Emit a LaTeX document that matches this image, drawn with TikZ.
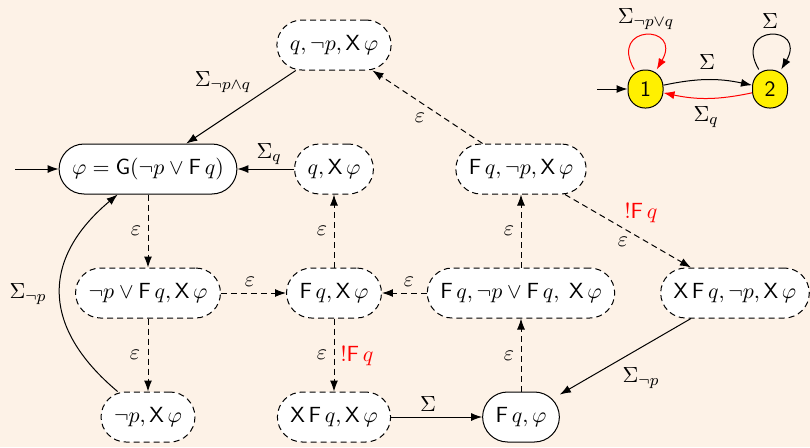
\documentclass[tikz,border=0pt]{standalone}
\usetikzlibrary{arrows.meta}
\definecolor{bgc}{RGB}{253,242,231}
\definecolor{yel}{RGB}{255,240,0}
\begin{document}
\begin{tikzpicture}[x=0.5pt,y=-0.5pt,
  font=\fontsize{10.95}{13.6}\selectfont,
  >={Latex[length=5.5pt,width=4pt]}, line width=0.5pt,
  st/.style={draw, fill=white, rounded corners=12.5pt, minimum height=25pt, inner xsep=6.5pt, inner ysep=2pt},
  dst/.style={st, dash pattern=on 3pt off 2pt},
  de/.style={->, dash pattern=on 3pt off 2pt},
  lbl/.style={inner sep=0pt},
  rl/.style={lbl, text=red},
  small/.style={draw, fill=yel, rounded corners=8.5pt, minimum width=17.5pt, minimum height=19pt, inner sep=0pt, font=\sffamily\fontsize{10.95}{13.6}\selectfont}]
\fill[bgc] (0,0) rectangle (810,447);
\useasboundingbox (0,0) rectangle (810,447);

% states
\node[st]  (main)  at (148,169) {$\varphi = \mathsf{G}(\neg p \vee \mathsf{F}\,q)$};
\node[dst] (qnpX)  at (334,45)  {$q, \neg p, \mathsf{X}\,\varphi$};
\node[dst] (qX)    at (334,169) {$q, \mathsf{X}\,\varphi$};
\node[dst] (FnpX)  at (521,169) {$\mathsf{F}\,q, \neg p, \mathsf{X}\,\varphi$};
\node[dst] (npFX)  at (148,293) {$\neg p \vee \mathsf{F}\,q, \mathsf{X}\,\varphi$};
\node[dst] (FX)    at (334,293) {$\mathsf{F}\,q, \mathsf{X}\,\varphi$};
\node[dst] (FnpFX) at (521,293) {$\mathsf{F}\,q, \neg p \vee \mathsf{F}\,q,\;\mathsf{X}\,\varphi$};
\node[dst] (XFnpX) at (735,293) {$\mathsf{X}\,\mathsf{F}\,q, \neg p, \mathsf{X}\,\varphi$};
\node[dst] (npX)   at (148,417) {$\neg p, \mathsf{X}\,\varphi$};
\node[dst] (XFX)   at (334,417) {$\mathsf{X}\,\mathsf{F}\,q, \mathsf{X}\,\varphi$};
\node[st]  (Fphi)  at (521,417) {$\mathsf{F}\,q, \varphi$};
\coordinate (init) at (15,169);

% edges
\draw[->] (init) -- (main);
\draw[->] (qnpX) -- (main);
\draw[->] (qX) -- (main);
\draw[de] (main) -- (npFX);
\draw[de] (npFX) -- (FX);
\draw[de] (FX) -- (qX);
\draw[de] (FnpFX) -- (FX);
\draw[de] (FnpFX) -- (FnpX);
\draw[de] (FnpX) -- (qnpX);
\draw[de] (FnpX) -- (XFnpX);
\draw[de] (FX) -- (XFX);
\draw[de] (npFX) -- (npX);
\draw[->] (npX) to[out=140,in=220,looseness=1.3] (main);
\draw[->] (XFX) -- (Fphi);
\draw[->] (XFnpX) -- (Fphi);
\draw[de] (Fphi) -- (FnpFX);

% labels
\node[lbl] (l1)  at (223,82)  {$\Sigma_{\neg p\wedge q}$};
\node[lbl] (l2)  at (269,154) {$\Sigma_q$};
\node[lbl] (l3)  at (136,231) {$\varepsilon$};
\node[lbl] (l4)  at (322,231) {$\varepsilon$};
\node[lbl] (l5)  at (250,282) {$\varepsilon$};
\node[lbl] (l6)  at (28,294)  {$\Sigma_{\neg p}$};
\node[lbl] (l7)  at (409,282) {$\varepsilon$};
\node[lbl] (l8)  at (509,231) {$\varepsilon$};
\node[lbl] (l9)  at (420,118) {$\varepsilon$};
\node[rl]  (l10) at (641,213) {$\mathsf{!F}\,q$};
\node[lbl] (l11) at (623,242) {$\varepsilon$};
\node[lbl] (l12) at (135,355) {$\varepsilon$};
\node[lbl] (l13) at (322,355) {$\varepsilon$};
\node[rl]  (l14) at (357,356) {$\mathsf{!F}\,q$};
\node[lbl] (l15) at (428,404) {$\Sigma$};
\node[lbl] (l16) at (641,378) {$\Sigma_{\neg p}$};
\node[lbl] (l17) at (509,356) {$\varepsilon$};

% small automaton
\node[small] (n1) at (645.5,89) {1};
\node[small] (n2) at (770,89) {2};
\coordinate (init2) at (597,89);
\draw[->] (init2) -- (n1);
\draw[->] (n1) to[bend left=12] (n2);
\draw[->,red] (n2) to[bend left=12] (n1);
\draw[->,red] (n1) to[out=120,in=60,looseness=6] (n1);
\draw[->] (n2) to[out=120,in=60,looseness=6] (n2);
\node[lbl] (m1) at (646,19)  {$\Sigma_{\neg p\vee q}$};
\node[lbl] (m2) at (770,21)  {$\Sigma$};
\node[lbl] (m3) at (707,62)  {$\Sigma$};
\node[lbl] (m4) at (706,117) {$\Sigma_q$};
\end{tikzpicture}
\end{document}
